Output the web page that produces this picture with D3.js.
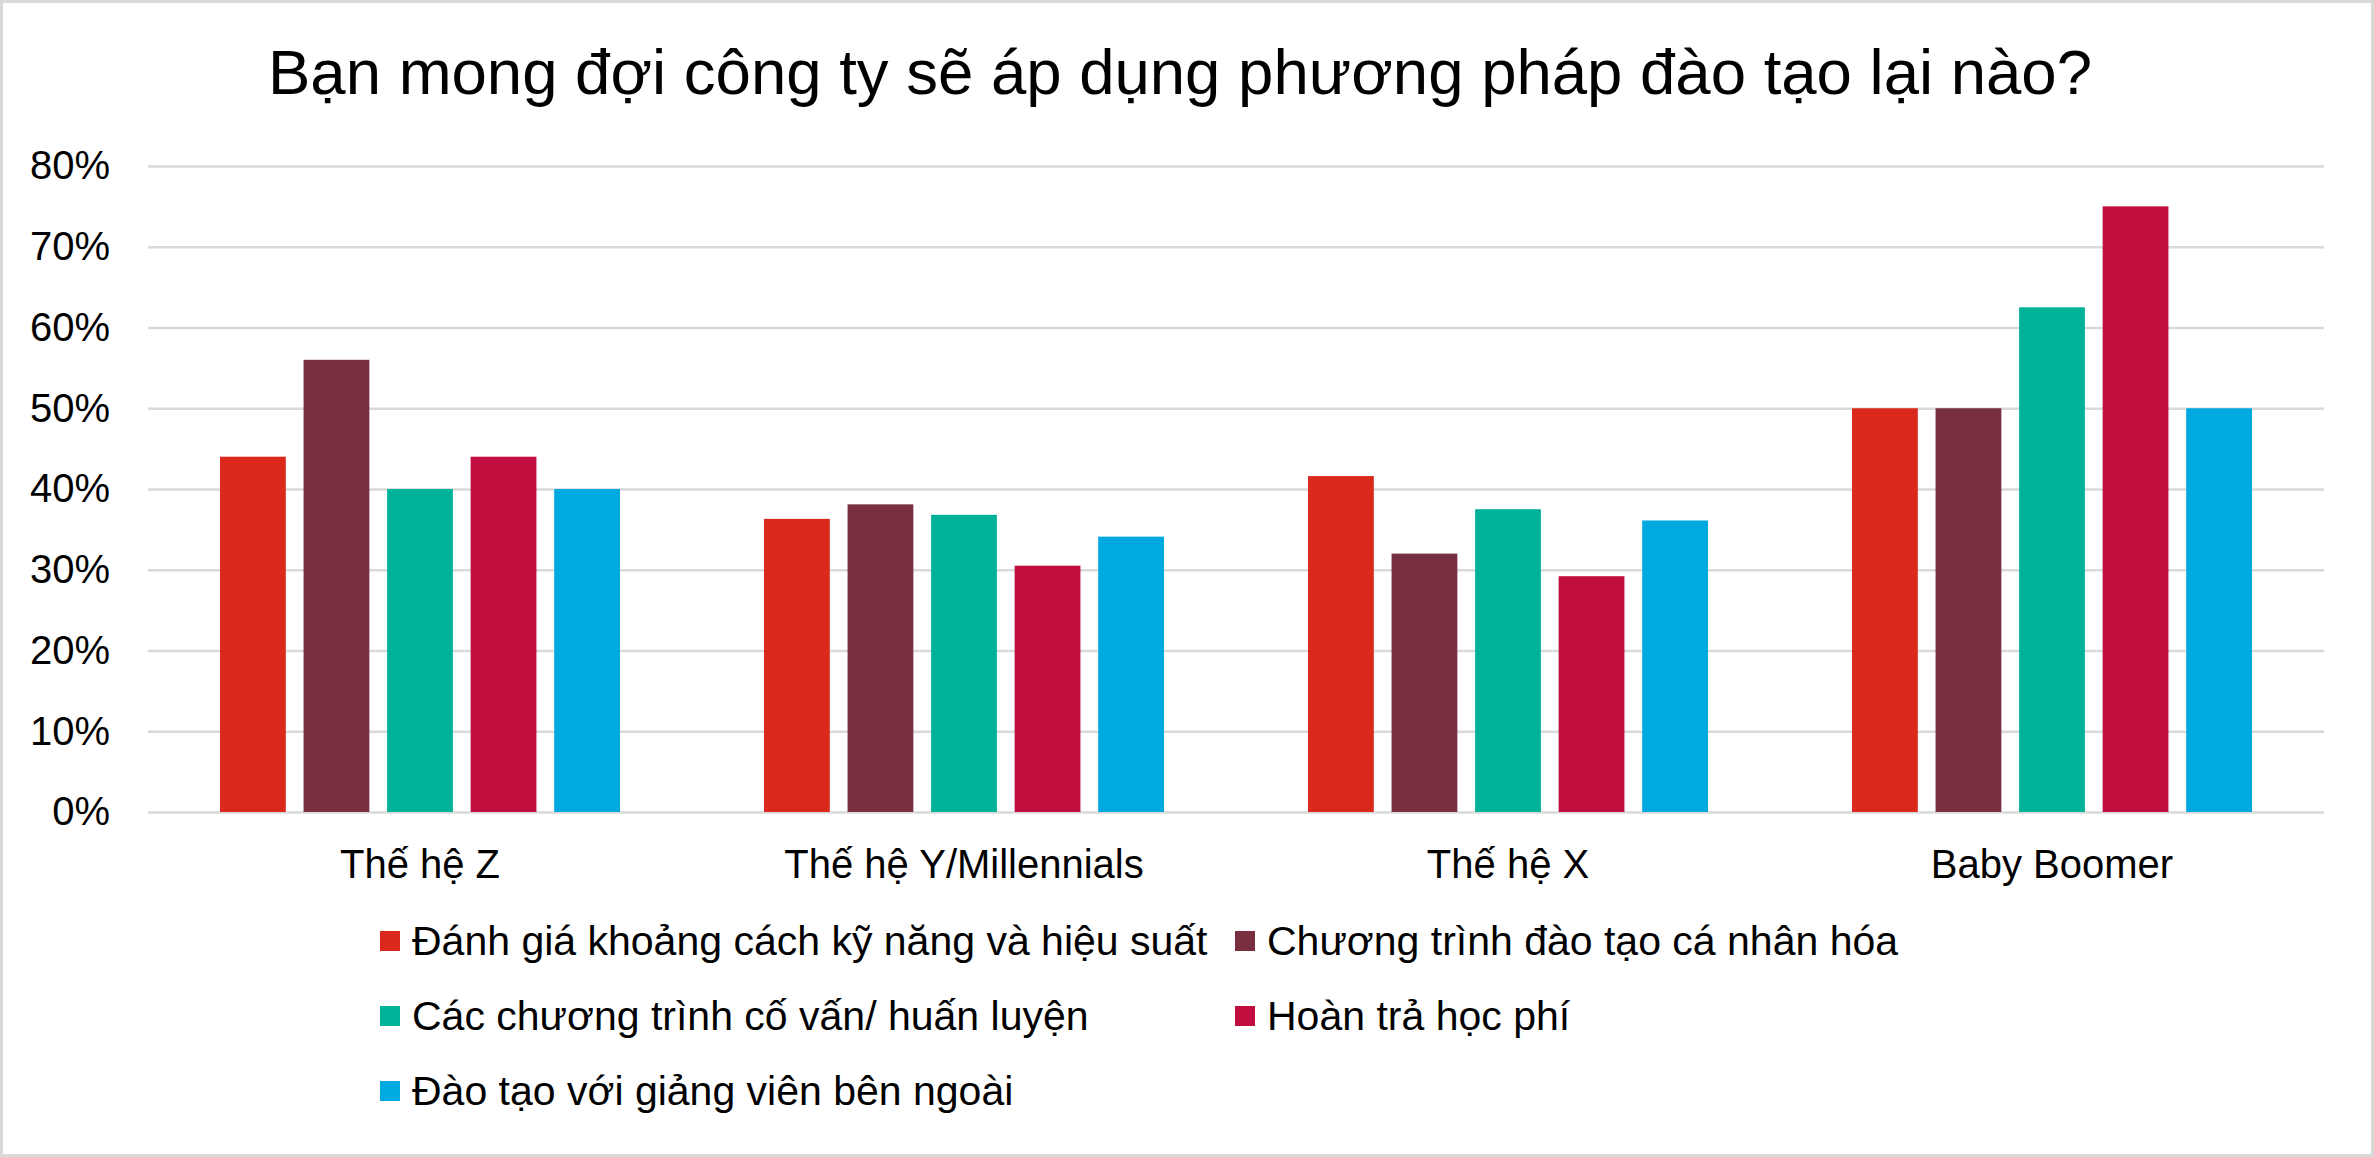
<!DOCTYPE html>
<html>
<head>
<meta charset="utf-8">
<script src="https://cdn.jsdelivr.net/npm/d3@7"></script>
<style>
  body { margin: 0; background: #fff; }
  svg text { font-family: "Liberation Sans", Arial, sans-serif; fill: #000; }
</style>
</head>
<body>
<svg id="chart"></svg>
<script>
// data
var categories = ["Thế hệ Z", "Thế hệ Y/Millennials", "Thế hệ X", "Baby Boomer"];
var seriesNames = [
  "Đánh giá khoảng cách kỹ năng và hiệu suất",
  "Chương trình đào tạo cá nhân hóa",
  "Các chương trình cố vấn/ huấn luyện",
  "Hoàn trả học phí",
  "Đào tạo với giảng viên bên ngoài"
];
var seriesColors = ["#da291c", "#782f40", "#00b398", "#c10e3e", "#00a9e0"];
// one array per series, in category order
var danhGia   = [0.44, 0.363, 0.416, 0.50];
var caNhanHoa = [0.56, 0.381, 0.320, 0.50];
var coVan     = [0.40, 0.368, 0.375, 0.625];
var hoanTra   = [0.44, 0.305, 0.292, 0.75];
var benNgoai  = [0.40, 0.341, 0.361, 0.50];
var seriesValues = [danhGia, caNhanHoa, coVan, hoanTra, benNgoai];
var yTicks = [0, 0.1, 0.2, 0.3, 0.4, 0.5, 0.6, 0.7, 0.8];
var title = "Bạn mong đợi công ty sẽ áp dụng phương pháp đào tạo lại nào?";

var width = 2374, height = 1157;
// note: "top" is taken by window.top, so use plot* names
var plotLeft = 148, plotRight = 2324, plotTop = 166, plotBottom = 812;
var fontSize = 40;

var svg = d3.select("#chart").attr("width", width).attr("height", height);

// outer frame
svg.append("rect")
  .attr("x", 1.5).attr("y", 1.5)
  .attr("width", width - 3).attr("height", height - 3)
  .attr("fill", "#fff")
  .attr("stroke", "#d9d9d9")
  .attr("stroke-width", 3);

svg.append("text")
  .attr("x", 1180)
  .attr("y", 94)
  .attr("text-anchor", "middle")
  .style("font-size", "63.5px")
  .text(title);

var x = d3.scaleBand().domain(categories).range([plotLeft, plotRight]);
// Excel style: gap width 219%, overlap -27%
var xInner = d3.scaleBand()
  .domain(d3.range(seriesNames.length))
  .range([0, x.bandwidth()])
  .paddingInner(0.27 / 1.27)
  .paddingOuter(1.095 / 1.27);

var y = d3.scaleLinear().domain([0, 0.8]).range([plotBottom, plotTop]);

// grid + tick labels
var yAxis = svg.append("g")
  .attr("transform", "translate(" + plotLeft + ",0)")
  .call(d3.axisLeft(y)
    .tickValues(yTicks)
    .tickSize(-(plotRight - plotLeft))
    .tickPadding(38)
    .tickFormat(d3.format(".0%")));
yAxis.select(".domain").remove();
yAxis.selectAll("line").attr("stroke", "#d9d9d9").attr("stroke-width", 2.7);
yAxis.selectAll("text")
  .style("font-size", fontSize + "px")
  .style("font-family", '"Liberation Sans", Arial, sans-serif')
  .attr("fill", "#000");

// bars
var groups = svg.append("g").selectAll("g")
  .data(categories)
  .enter().append("g")
  .attr("transform", function(d) { return "translate(" + x(d) + ",0)"; });

groups.selectAll("rect")
  .data(function(d, ci) {
    return seriesValues.map(function(vals, si) { return { s: si, v: vals[ci] }; });
  })
  .enter().append("rect")
  .attr("x", function(d) { return xInner(d.s); })
  .attr("width", xInner.bandwidth())
  .attr("y", function(d) { return y(d.v); })
  .attr("height", function(d) { return y(0) - y(d.v); })
  .attr("fill", function(d) { return seriesColors[d.s]; });

// category labels
var xAxis = svg.append("g")
  .attr("transform", "translate(0," + plotBottom + ")")
  .call(d3.axisBottom(x).tickSize(0).tickPadding(38));
xAxis.select(".domain").remove();
xAxis.selectAll("text")
  .style("font-size", fontSize + "px")
  .style("font-family", '"Liberation Sans", Arial, sans-serif')
  .attr("fill", "#000");

// legend, two columns like the original
var legendX = 380, legendColW = 855, legendY = 955, legendRowH = 75;
var legend = svg.append("g").selectAll("g")
  .data(seriesNames)
  .enter().append("g")
  .attr("transform", function(d, i) {
    return "translate(" + (legendX + (i % 2) * legendColW) + "," + (legendY + Math.floor(i / 2) * legendRowH) + ")";
  });
legend.append("rect")
  .attr("x", 0).attr("y", -24)
  .attr("width", 20).attr("height", 20)
  .attr("fill", function(d, i) { return seriesColors[i]; });
legend.append("text")
  .attr("x", 32).attr("y", 0)
  .style("font-size", "41px")
  .text(function(d) { return d; });
</script>
</body>
</html>
